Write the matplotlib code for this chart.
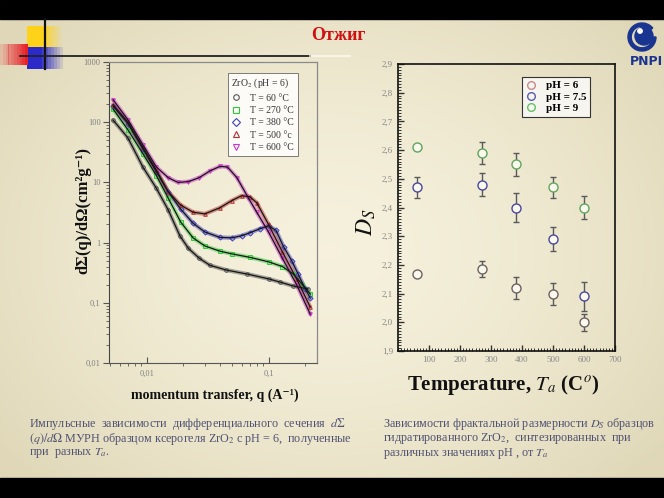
import numpy as np
import matplotlib
matplotlib.use("Agg")
import matplotlib.pyplot as plt
from matplotlib.ticker import FixedLocator, FixedFormatter, MultipleLocator, NullFormatter, LogLocator
from matplotlib.lines import Line2D
from matplotlib.patches import Rectangle, Circle, Wedge

plt.rcParams['mathtext.fontset'] = 'stix'
SERIF = ['Liberation Serif', 'DejaVu Serif']

# ---------------- data: left chart (SANS curves) ----------------
q_60 = [0.0053, 0.007, 0.0093, 0.012, 0.015, 0.0187, 0.022, 0.027, 0.033, 0.045, 0.067, 0.1, 0.125, 0.16, 0.21]
I_60 = [108, 55, 18, 8, 3.5, 1.3, 0.8, 0.55, 0.42, 0.35, 0.3, 0.25, 0.22, 0.19, 0.17]

q_270 = [0.0053, 0.007, 0.0093, 0.012, 0.015, 0.019, 0.024, 0.03, 0.04, 0.05, 0.07, 0.1, 0.13, 0.16, 0.19, 0.22]
I_270 = [165, 75, 30, 13, 5.5, 2.2, 1.2, 0.88, 0.72, 0.65, 0.57, 0.48, 0.4, 0.3, 0.2, 0.14]

q_380 = [0.0053, 0.007, 0.0093, 0.012, 0.015, 0.019, 0.024, 0.03, 0.04, 0.05, 0.06, 0.07, 0.085, 0.1, 0.115, 0.133, 0.155, 0.175, 0.2, 0.22]
I_380 = [185, 95, 36, 15, 7, 3.6, 2.1, 1.5, 1.22, 1.2, 1.3, 1.45, 1.7, 1.9, 1.6, 0.85, 0.5, 0.3, 0.17, 0.12]

q_500 = [0.0053, 0.007, 0.0093, 0.012, 0.015, 0.019, 0.024, 0.03, 0.04, 0.05, 0.06, 0.07, 0.08, 0.1, 0.13, 0.17, 0.22]
I_500 = [195, 100, 38, 16, 7, 4.2, 3.2, 3.0, 3.8, 5.0, 6.0, 5.8, 4.6, 2.0, 0.7, 0.25, 0.085]

q_600 = [0.0053, 0.007, 0.0093, 0.012, 0.015, 0.018, 0.022, 0.027, 0.033, 0.04, 0.046, 0.055, 0.068, 0.08, 0.1, 0.13, 0.17, 0.22]
I_600 = [235, 110, 42, 18, 12, 10, 10.3, 12, 15.5, 18.5, 18, 12, 5.6, 3.2, 1.5, 0.55, 0.2, 0.065]

left_labels = ['T = 60 \u00b0C', 'T = 270 \u00b0C', 'T = 380 \u00b0C', 'T = 500 \u00b0c', 'T = 600 \u00b0C']
left_yticks = [0.01, 0.1, 1, 10, 100, 1000]
left_yticklabels = ['0,01', '0,1', '1', '10', '100', '1000']
left_xticks = [0.01, 0.1]
left_xticklabels = ['0,01', '0,1']

# ---------------- data: right chart (fractal dimension) ----------------
temps = [60, 270, 380, 500, 600]
ds_ph6 = [2.17, 2.185, 2.12, 2.10, 2.00]
err_ph6 = [0.0, 0.028, 0.038, 0.038, 0.03]
ds_ph75 = [2.47, 2.48, 2.40, 2.29, 2.09]
err_ph75 = [0.038, 0.04, 0.05, 0.042, 0.05]
ds_ph9 = [2.61, 2.59, 2.55, 2.47, 2.40]
err_ph9 = [0.0, 0.038, 0.04, 0.037, 0.04]
right_labels = ['pH = 6', 'pH = 7.5', 'pH = 9']
right_yticks = [1.9, 2.0, 2.1, 2.2, 2.3, 2.4, 2.5, 2.6, 2.7, 2.8, 2.9]
right_yticklabels = ['1,9', '2,0', '2,1', '2,2', '2,3', '2,4', '2,5', '2,6', '2,7', '2,8', '2,9']
right_xticks = [100, 200, 300, 400, 500, 600, 700]

W, H = 664, 498
fig = plt.figure(figsize=(W / 100, H / 100), dpi=100)

# ---------------- background / slide decoration ----------------
bg = fig.add_axes([0, 0, 1, 1], zorder=-10)
bg.set_xlim(0, W)
bg.set_ylim(H, 0)
bg.axis('off')
yy, xx = np.mgrid[0:H, 0:W]
r = np.sqrt(((xx - 330) / 420.0) ** 2 + ((yy - 250) / 330.0) ** 2)
r = np.clip(r, 0, 1)
c_in = np.array([0.965, 0.945, 0.865])
c_out = np.array([0.875, 0.845, 0.72])
img = c_in[None, None, :] * (1 - r[..., None] ** 1.6) + c_out[None, None, :] * (r[..., None] ** 1.6)
bg.imshow(img, extent=[0, W, H, 0], aspect='auto', zorder=0)
bg.add_patch(Rectangle((0, 0), W, 19, color='black', zorder=1))
bg.add_patch(Rectangle((0, 478), W, 20, color='black', zorder=1))

# yellow / blue / red squares with fade
for i in range(12):
    a = 1.0 if i < 6 else 1.0 - (i - 5) / 7.0
    bg.add_patch(Rectangle((27 + i * 2.8, 26), 2.9, 21, color='#ffd21a', alpha=a, lw=0, zorder=2))
for i in range(12):
    a = 1.0 if i < 5 else 1.0 - (i - 4) / 8.0
    bg.add_patch(Rectangle((27 + i * 3.0, 47), 3.1, 22, color='#2a2ac8', alpha=a, lw=0, zorder=2))
for i in range(10):
    a = 0.15 + 0.85 * (i / 9.0)
    bg.add_patch(Rectangle((i * 2.8, 44), 2.9, 21, color='#e8202a', alpha=a, lw=0, zorder=2))
bg.plot([45, 45], [19, 69], color='#111111', lw=1.6, zorder=3)
bg.plot([20, 310], [56, 56], color='#222222', lw=1.3, zorder=3)
bg.plot([310, 350], [56, 56], color='#ffffff', lw=1.5, alpha=0.6, zorder=3)

# title
bg.text(338, 35, 'Отжиг', color='#d01010', fontsize=13, fontweight='bold',
        family=SERIF, ha='center', va='center', zorder=3)

# PNPI logo
bg.add_patch(Wedge((642, 37), 14, 0, 320, width=3.2, color='#1a3590', zorder=3))
bg.add_patch(Circle((644, 36), 9, color='#1a3590', zorder=4))
bg.add_patch(Circle((640, 31), 2.2, color='white', zorder=5))
bg.text(646, 61, 'PNPI', color='#1a3590', fontsize=9, fontweight='bold',
        family=['DejaVu Sans'], ha='center', va='center', zorder=3)

# ---------------- left chart ----------------
axL = fig.add_axes([109 / W, 1 - 363 / H, 208 / W, 301 / H])
axL.patch.set_alpha(0)
series = [
    (q_60, I_60, '#555555', 'o'),
    (q_270, I_270, '#2ecc3a', 's'),
    (q_380, I_380, '#3f3fc0', 'D'),
    (q_500, I_500, '#b43030', '^'),
    (q_600, I_600, '#cc33cc', 'v'),
]
handles = []
for (q, I, c, m), lab in zip(series, left_labels):
    axL.plot(q, I, color=c, lw=3.0, alpha=0.5, solid_capstyle='round', zorder=2)
    axL.plot(q, I, ls='none', marker=m, ms=2.6, mfc='none', mec=c, mew=0.7, zorder=3)
    axL.plot(q, I, color='#151515', lw=0.9, zorder=4)
    handles.append(Line2D([], [], ls='none', marker=m, ms=4, mfc='none', mec=c, mew=0.8, label=lab))
axL.set_xscale('log')
axL.set_yscale('log')
axL.set_xlim(0.0049, 0.25)
axL.set_ylim(0.01, 1000)
axL.yaxis.set_major_locator(FixedLocator(left_yticks))
axL.yaxis.set_major_formatter(FixedFormatter(left_yticklabels))
axL.xaxis.set_major_locator(FixedLocator(left_xticks))
axL.xaxis.set_major_formatter(FixedFormatter(left_xticklabels))
axL.yaxis.set_minor_locator(LogLocator(base=10, subs=np.arange(2, 10) * 1.0, numticks=20))
axL.xaxis.set_minor_locator(LogLocator(base=10, subs=np.arange(2, 10) * 1.0, numticks=20))
axL.yaxis.set_minor_formatter(NullFormatter())
axL.xaxis.set_minor_formatter(NullFormatter())
axL.tick_params(axis='both', which='major', labelsize=6, colors='#555555', labelcolor='#808080', length=4, width=0.8)
axL.tick_params(axis='both', which='minor', colors='#555555', length=2, width=0.6)
axL.tick_params(axis='x', direction='in', pad=5)
axL.tick_params(axis='y', direction='out', pad=2)
for s in ['top', 'right']:
    axL.spines[s].set_color('#8a8a8a')
    axL.spines[s].set_linewidth(0.9)
axL.spines['left'].set_color('#444444')
axL.spines['bottom'].set_color('#555555')
for lab in axL.get_xticklabels() + axL.get_yticklabels():
    lab.set_family(SERIF)
legL = axL.legend(handles=handles, loc='upper right', bbox_to_anchor=(0.93, 0.98),
                  title='ZrO$_2$ (pH = 6)', fontsize=7, title_fontsize=7,
                  frameon=True, fancybox=False, edgecolor='#666666', facecolor='#ffffff',
                  framealpha=0.85, handlelength=1.0, handletextpad=0.9, borderpad=0.4,
                  labelspacing=0.35, prop={'family': SERIF, 'size': 7})
legL.get_frame().set_linewidth(0.7)
legL.get_title().set_family(SERIF)
legL._legend_box.align = 'left'
for t in legL.get_texts():
    t.set_color('#333333')
legL.get_title().set_color('#333333')

bg.text(83, 210, 'd\u03a3(q)/d\u03a9(cm\u00b2g\u207b\u00b9)', rotation=90, fontsize=12,
        fontweight='bold', family=SERIF, ha='center', va='center', color='#111111', zorder=3)
bg.text(215, 395, 'momentum transfer, q (A\u207b\u00b9)', fontsize=10, fontweight='bold',
        family=SERIF, ha='center', va='center', color='#111111', zorder=3)

# ---------------- right chart ----------------
axR = fig.add_axes([398 / W, 1 - 351 / H, 217 / W, 287 / H])
axR.patch.set_alpha(0)
specs = [
    (ds_ph6, err_ph6, '#6e6262', '#c98a8a'),
    (ds_ph75, err_ph75, '#4848a0', '#5a5ab0'),
    (ds_ph9, err_ph9, '#5ea65e', '#62c262'),
]
hR = []
for (d, e, ec, lc), lab in zip(specs, right_labels):
    axR.errorbar(temps, d, yerr=e, fmt='o', ms=6.5, mfc='#fbf8ee', mec=ec, mew=1.0,
                 ecolor='#5a5a5a', elinewidth=1.0, capsize=2.5, capthick=1.0, zorder=3)
    hR.append(Line2D([], [], ls='none', marker='o', ms=5.5, mfc='none', mec=lc, mew=1.0, label=lab))
axR.set_xlim(0, 700)
axR.set_ylim(1.9, 2.9)
axR.yaxis.set_major_locator(FixedLocator(right_yticks))
axR.yaxis.set_major_formatter(FixedFormatter(right_yticklabels))
axR.xaxis.set_major_locator(FixedLocator(right_xticks))
axR.yaxis.set_minor_locator(MultipleLocator(0.01))
axR.xaxis.set_minor_locator(MultipleLocator(10))
axR.tick_params(axis='both', which='major', labelsize=6.5, colors='#333333', labelcolor='#888888',
                length=4, width=1.0, direction='in')
axR.tick_params(axis='both', which='minor', colors='#333333', length=2, width=0.7, direction='in')
for s in axR.spines.values():
    s.set_color('#111111')
    s.set_linewidth(1.2)
for lab in axR.get_xticklabels() + axR.get_yticklabels():
    lab.set_family(SERIF)
legR = axR.legend(handles=hR, loc='upper right', bbox_to_anchor=(0.91, 0.975),
                  frameon=True, fancybox=False, edgecolor='#333333', facecolor='#f7f5f0',
                  framealpha=1.0, handlelength=1.0, handletextpad=0.8, borderpad=0.35,
                  labelspacing=0.15, prop={'family': SERIF, 'size': 8, 'weight': 'bold'})
legR.get_frame().set_linewidth(0.8)

bg.text(366, 222, '$D_S$', rotation=90, fontsize=17, ha='center', va='center', color='#111111', zorder=3)
bg.text(503, 385, 'Temperature, $T_a$ (C$^o$)', fontsize=15, fontweight='bold', family=SERIF,
        ha='center', va='center', color='#111111', zorder=3)

# ---------------- captions ----------------
cap_col = '#505272'
left_lines = ['Импульсные  зависимости  дифференциального  сечения  $d\\Sigma$',
              '$(q)/d\\Omega$ МУРН образцом ксерогеля ZrO$_2$ с pH = 6,  полученные',
              'при  разных $T_a$.']
right_lines = ['Зависимости фрактальной размерности $D_S$ образцов',
               'гидратированного ZrO$_2$,  синтезированных  при',
               'различных значениях pH , от $T_a$']
for i, s in enumerate(left_lines):
    bg.text(29, 424 + i * 14.5, s, fontsize=8.7, family=SERIF, color=cap_col, ha='left', va='center', zorder=3)
for i, s in enumerate(right_lines):
    bg.text(383, 424 + i * 14.5, s, fontsize=8.7, family=SERIF, color=cap_col, ha='left', va='center', zorder=3)

fig.savefig('out.png', dpi=100)
